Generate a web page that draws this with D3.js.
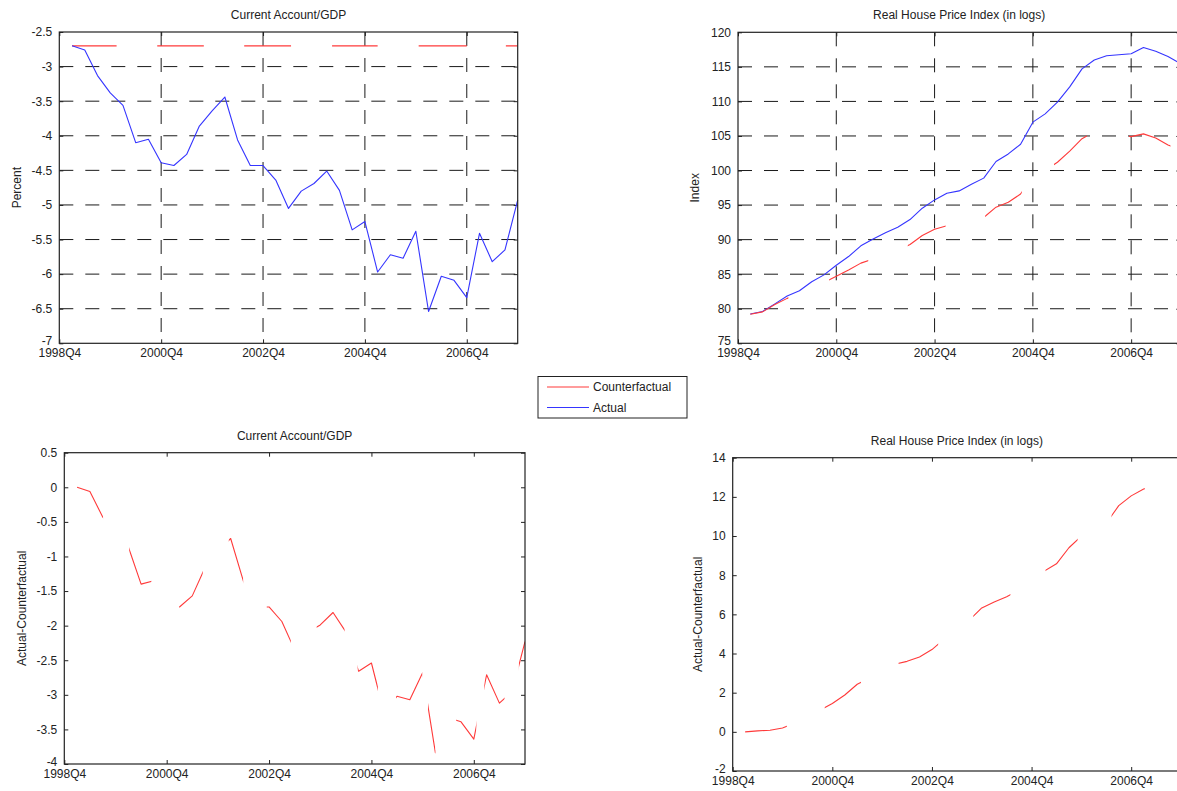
<!DOCTYPE html>
<html>
<head>
<meta charset="utf-8">
<script src="https://cdn.jsdelivr.net/npm/d3@7.9.0/dist/d3.min.js"></script>
<style>
  body { margin: 0; background: #fff; }
  svg { display: block; font-family: "Liberation Sans", Arial, sans-serif; }
  .tick text { fill: #222; font-size: 12px; }
  .title, .ylab, .legend text { fill: #222; font-size: 12px; }
</style>
</head>
<body>
<svg id="chart" width="1177" height="791"></svg>
<script>
// quarters on the x axis, 1998Q4 .. 2007Q4
const quarters = [
  "1998Q4",
  "1999Q1", "1999Q2", "1999Q3", "1999Q4",
  "2000Q1", "2000Q2", "2000Q3", "2000Q4",
  "2001Q1", "2001Q2", "2001Q3", "2001Q4",
  "2002Q1", "2002Q2", "2002Q3", "2002Q4",
  "2003Q1", "2003Q2", "2003Q3", "2003Q4",
  "2004Q1", "2004Q2", "2004Q3", "2004Q4",
  "2005Q1", "2005Q2", "2005Q3", "2005Q4",
  "2006Q1", "2006Q2", "2006Q3", "2006Q4",
  "2007Q1", "2007Q2", "2007Q3", "2007Q4"
];
const xTickLabels = ["1998Q4", "2000Q4", "2002Q4", "2004Q4", "2006Q4"];

// current account / GDP, percent (first slot 1998Q4 has no data)
const caActual = [null,
  -2.70, -2.76, -3.13, -3.38, -3.56, -4.10, -4.05, -4.39, -4.43,
  -4.27, -3.86, -3.64, -3.44, -4.06, -4.43, -4.43, -4.64, -5.05,
  -4.80, -4.69, -4.51, -4.79, -5.36, -5.24, -5.97, -5.72, -5.77,
  -5.38, -6.54, -6.03, -6.09, -6.34, -5.41, -5.82, -5.65, -4.93];
const caCounterfactual = [null,
  -2.70, -2.70, -2.70, -2.70, -2.70, -2.70, -2.70, -2.70, -2.70,
  -2.70, -2.70, -2.70, -2.70, -2.70, -2.70, -2.70, -2.70, -2.70,
  -2.70, -2.70, -2.70, -2.70, -2.70, -2.70, -2.70, -2.70, -2.70,
  -2.70, -2.70, -2.70, -2.70, -2.70, -2.70, -2.70, -2.70, -2.70];
const caDiff = [null,
  0.00, -0.06, -0.43, -0.68, -0.86, -1.40, -1.35, -1.69, -1.73,
  -1.57, -1.16, -0.94, -0.74, -1.36, -1.73, -1.73, -1.94, -2.35,
  -2.10, -1.99, -1.81, -2.09, -2.66, -2.54, -3.27, -3.02, -3.07,
  -2.68, -3.84, -3.33, -3.39, -3.64, -2.71, -3.12, -2.95, -2.23];

// real house price index (in logs)
const hpActual = [null,
  79.25, 79.6, 80.7, 81.85, 82.6, 83.9, 84.9, 86.3, 87.55,
  89.1, 90.1, 91.0, 91.8, 92.9, 94.55, 95.75, 96.7, 97.05,
  98.0, 98.9, 101.3, 102.4, 103.8, 107.0, 108.2, 109.9, 112.1,
  114.7, 116.0, 116.6, 116.75, 116.9, 117.8, 117.25, 116.5, 115.5];
const hpCounterfactual = [null,
  79.2, 79.55, 80.6, 81.5, 82.15, 83.1, 83.8, 84.7, 85.6,
  86.6, 87.2, 87.9, 88.4, 89.3, 90.6, 91.5, 92.0, 91.9,
  92.3, 93.2, 94.7, 95.4, 96.6, 99.2, 100.0, 101.2, 102.8,
  104.6, 105.6, 105.8, 105.2, 104.9, 105.3, 104.7, 103.7, 103.0];
const hpDiff = [null,
  0.0, 0.05, 0.08, 0.2, 0.45, 0.8, 1.1, 1.45, 1.88,
  2.43, 2.75, 3.1, 3.45, 3.6, 3.82, 4.2, 4.75, 5.2,
  5.7, 6.33, 6.63, 6.9, 7.25, 7.7, 8.2, 8.58, 9.4,
  10.0, 10.4, 10.65, 11.55, 12.05, 12.4, 12.6, 12.8, 12.9];

const caTicks = [-7, -6.5, -6, -5.5, -5, -4.5, -4, -3.5, -3, -2.5];
const hpTicks = [75, 80, 85, 90, 95, 100, 105, 110, 115, 120];
const caDiffTicks = [-4, -3.5, -3, -2.5, -2, -1.5, -1, -0.5, 0, 0.5];
const hpDiffTicks = [-2, 0, 2, 4, 6, 8, 10, 12, 14];

// stretches (in quarters from 1998Q4) where the red line survives in the scan
const caCfVisible = [[1, 4.5], [7.77, 11.35], [14.6, 18.2], [21.5, 25.0], [28.3, 32.0], [35.15, 36]];
const hpCfVisible = [[1, 4.1], [7.5, 10.6], [13.9, 16.9], [20.2, 23.1], [25.8, 28.4], [31.9, 35.2]];
const caDiffVisible = [[1, 3.03], [5.15, 6.8], [9.05, 10.82], [12.93, 13.98], [15.9, 17.7], [19.8, 21.9],
  [23.0, 24.5], [26.0, 27.97], [28.5, 29.0], [30.7, 32.2], [32.9, 34.4], [35.6, 36]];
const hpDiffVisible = [[1, 4.35], [7.47, 10.3], [13.4, 16.5], [19.4, 22.3], [25.2, 27.7], [30.5, 33.1]];

const RED = "#ff3a3a";
const BLUE = "#3535ff";

const svg = d3.select("#chart");

const panels = [
  { id: "tl", left: 59.3, right: 517.7, top: 32, bottom: 343.3,
    yDomain: [-7, -2.5], yTicks: caTicks, grid: true,
    title: "Current Account/GDP", ylabel: "Percent", ylabX: 17,
    series: [
      { values: caCounterfactual, color: RED, visible: caCfVisible },
      { values: caActual, color: BLUE }
    ] },
  { id: "tr", left: 738, right: 1180.3, top: 32.3, bottom: 343.3,
    yDomain: [75, 120], yTicks: hpTicks, grid: true,
    title: "Real House Price Index (in logs)", ylabel: "Index", ylabX: 695,
    series: [
      { values: hpActual, color: BLUE },
      { values: hpCounterfactual, color: RED, visible: hpCfVisible }
    ] },
  { id: "bl", left: 64.3, right: 525, top: 452.7, bottom: 764,
    yDomain: [-4, 0.5], yTicks: caDiffTicks, grid: false,
    title: "Current Account/GDP", ylabel: "Actual-Counterfactual", ylabX: 22,
    series: [
      { values: caDiff, color: RED, visible: caDiffVisible }
    ] },
  { id: "br", left: 732.7, right: 1181, top: 457.7, bottom: 771,
    yDomain: [-2, 14], yTicks: hpDiffTicks, grid: false,
    title: "Real House Price Index (in logs)", ylabel: "Actual-Counterfactual", ylabX: 698,
    series: [
      { values: hpDiff, color: RED, visible: hpDiffVisible }
    ] }
];

const xTickIdx = xTickLabels.map(l => quarters.indexOf(l));

function drawPanel(p) {
  const x = d3.scaleLinear().domain([0, quarters.length - 1]).range([p.left, p.right]);
  const y = d3.scaleLinear().domain(p.yDomain).range([p.bottom, p.top]);
  const g = svg.append("g").attr("class", "panel-" + p.id);

  // dashed grid on the top row
  if (p.grid) {
    const gg = g.append("g")
      .attr("stroke", "#1a1a1a")
      .attr("stroke-width", 1)
      .attr("stroke-dasharray", "14,12")
      .attr("fill", "none");
    p.yTicks.slice(1, -1).forEach(v => {
      gg.append("line")
        .attr("x1", p.left).attr("x2", p.right)
        .attr("y1", y(v)).attr("y2", y(v));
    });
    xTickIdx.slice(1).forEach(i => {
      gg.append("line")
        .attr("x1", x(i)).attr("x2", x(i))
        .attr("y1", p.top).attr("y2", p.bottom);
    });
  }

  // axes with inward ticks, MATLAB style
  g.append("g")
    .attr("transform", `translate(${p.left},0)`)
    .call(d3.axisLeft(y).tickValues(p.yTicks).tickSize(-4).tickPadding(7).tickFormat(d => String(d)))
    .call(a => a.select(".domain").remove());
  // lowest y label sits a touch higher, as in the scan
  g.select(".tick text").attr("dy", "0.1em");
  g.append("g")
    .attr("transform", `translate(0,${p.bottom})`)
    .call(d3.axisBottom(x).tickValues(xTickIdx).tickSize(-4).tickPadding(5).tickFormat(i => quarters[i]))
    .call(a => a.select(".domain").remove());
  // opposite ticks
  g.append("g")
    .attr("transform", `translate(${p.right},0)`)
    .call(d3.axisRight(y).tickValues(p.yTicks).tickSize(-4).tickFormat(""))
    .call(a => a.select(".domain").remove());
  g.append("g")
    .attr("transform", `translate(0,${p.top})`)
    .call(d3.axisTop(x).tickValues(xTickIdx).tickSize(-4).tickFormat(""))
    .call(a => a.select(".domain").remove());
  g.selectAll(".tick line").attr("stroke", "#222");

  // series
  const line = d3.line()
    .defined(d => d != null)
    .x((d, i) => x(i))
    .y(d => y(d));

  p.series.forEach((s, k) => {
    let path = g.append("path")
      .attr("d", line(s.values))
      .attr("fill", "none")
      .attr("stroke", s.color)
      .attr("stroke-width", 1.1)
      .attr("stroke-linejoin", "round");
    if (s.visible) {
      const clipId = `clip-${p.id}-${k}`;
      const cp = g.append("clipPath").attr("id", clipId);
      s.visible.forEach(([a, b]) => {
        cp.append("rect")
          .attr("x", x(a) - 1).attr("width", x(b) - x(a) + 1)
          .attr("y", p.top - 5).attr("height", p.bottom - p.top + 10);
      });
      path.attr("clip-path", `url(#${clipId})`);
    }
  });

  // box
  g.append("rect")
    .attr("x", p.left).attr("y", p.top)
    .attr("width", p.right - p.left).attr("height", p.bottom - p.top)
    .attr("fill", "none").attr("stroke", "#222").attr("stroke-width", 1.2);

  g.append("text").attr("class", "title")
    .attr("x", (p.left + p.right) / 2).attr("y", p.top - 13)
    .attr("text-anchor", "middle")
    .text(p.title);

  g.append("text").attr("class", "ylab")
    .attr("transform", `translate(${p.ylabX},${(p.top + p.bottom) / 2}) rotate(-90)`)
    .attr("text-anchor", "middle")
    .attr("dy", "0.35em")
    .text(p.ylabel);
}

panels.forEach(drawPanel);

// legend between the rows
const legend = svg.append("g").attr("class", "legend");
legend.append("rect")
  .attr("x", 538).attr("y", 376.5).attr("width", 149).attr("height", 41.5)
  .attr("fill", "#fff").attr("stroke", "#222").attr("stroke-width", 1);
const legendItems = [
  { label: "Counterfactual", color: RED },
  { label: "Actual", color: BLUE }
];
legendItems.forEach((d, i) => {
  const ly = 387 + i * 20.5;
  legend.append("line")
    .attr("x1", 547).attr("x2", 589).attr("y1", ly).attr("y2", ly)
    .attr("stroke", d.color).attr("stroke-width", 1.2);
  legend.append("text")
    .attr("x", 593).attr("y", ly).attr("dy", "0.35em")
    .text(d.label);
});
</script>
</body>
</html>
